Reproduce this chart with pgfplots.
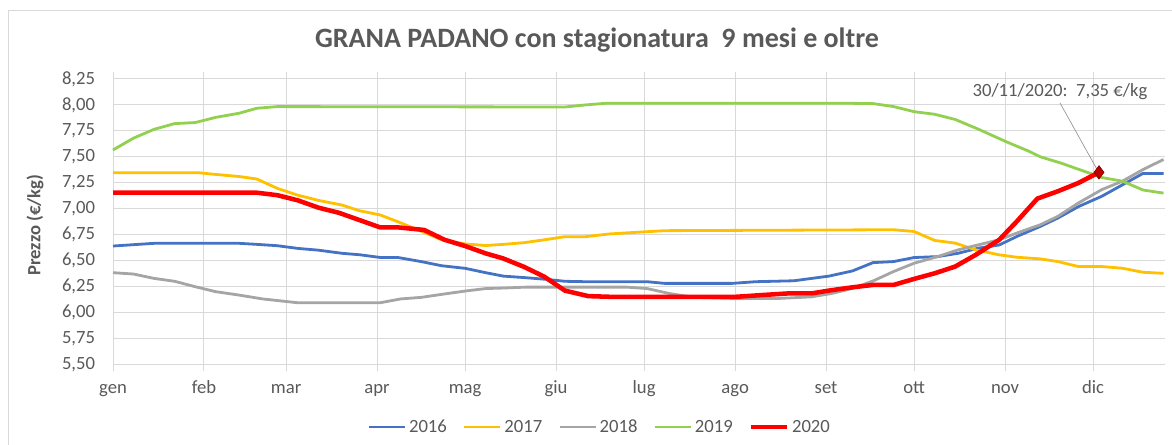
\documentclass[border=0pt]{standalone}
\usepackage{pgfplots}
\pgfplotsset{compat=1.18}
\usepackage{fontspec}
\setmainfont{Carlito}
\definecolor{cblue}{HTML}{4472C4}
\definecolor{cgold}{HTML}{FFC000}
\definecolor{cgray}{HTML}{A5A5A5}
\definecolor{cgreen}{HTML}{92D050}
\definecolor{cred}{HTML}{FF0000}
\definecolor{cdred}{HTML}{C00000}
\definecolor{grid}{HTML}{D9D9D9}
\definecolor{txt}{HTML}{595959}
\begin{document}
\begin{tikzpicture}
\draw[grid, line width=0.75pt] (6pt,0pt) -- (6pt,325.7pt) -- (879pt,325.7pt);
\begin{axis}[
  at={(84.75pt,60.525pt)}, anchor=south west,
  scale only axis, width=789pt, height=213.975pt,
  xmin=0, xmax=358.5, ymin=5.5, ymax=8.25,
  axis line style={draw=none},
  xtick={0,31,59,90,120,151,181,212,243,273,304,334},
  xticklabels={gen,feb,mar,apr,mag,giu,lug,ago,set,ott,nov,dic},
  ytick={5.5,5.75,6,6.25,6.5,6.75,7,7.25,7.5,7.75,8,8.25},
  yticklabels={{5,50},{5,75},{6,00},{6,25},{6,50},{6,75},{7,00},{7,25},{7,50},{7,75},{8,00},{8,25}},
  grid=major, major grid style={draw=grid, line width=0.75pt},
  tick align=outside,
  x tick style={draw=grid, line width=0.75pt}, major tick length=5.25pt,
  y tick style={draw=none},
  xticklabel style={font=\fontsize{14}{16}\selectfont, text=txt, anchor=base, yshift=-17pt},
  yticklabel style={font=\fontsize{14}{16}\selectfont, text=txt, anchor=east, inner sep=0pt, xshift=-8pt},
  legend columns=5,
  legend style={at={(0.463,-0.2198)}, anchor=center, draw=none, fill=none,
    font=\fontsize{14}{16}\selectfont, text=txt,
    /tikz/every even column/.append style={column sep=10pt},
    nodes={inner sep=2pt}},
  legend image code/.code={\draw[#1] (0pt,0pt) -- (27pt,0pt);},
  clip=false,
]
\addplot[cblue, line width=2.1pt] coordinates {
(0,6.64)(7,6.653)(14,6.666)(43,6.666)(49,6.656)(56,6.643)(63,6.617)(70,6.60)(78,6.57)(84,6.556)(91,6.53)(97,6.53)(105,6.49)(112,6.45)(120,6.425)(127,6.383)(133,6.35)(141,6.334)(148,6.318)(154,6.30)(161,6.296)(182,6.296)(188,6.28)(211,6.28)(219,6.296)(232,6.305)(244,6.35)(252,6.40)(259,6.48)(266,6.49)(273,6.529)(281,6.538)(288,6.57)(295,6.62)(302,6.65)(308,6.732)(316,6.829)(322,6.91)(329,7.02)(337,7.12)(344,7.23)(351,7.34)(358,7.34)};
\addlegendentry{2016}
\addplot[cgold, line width=2.1pt] coordinates {
(0,7.347)(29,7.347)(35,7.33)(43,7.31)(49,7.286)(56,7.196)(63,7.13)(70,7.08)(78,7.035)(84,6.98)(91,6.94)(97,6.875)(104,6.795)(112,6.70)(120,6.66)(127,6.645)(133,6.656)(140,6.672)(148,6.704)(154,6.73)(161,6.73)(169,6.756)(177,6.77)(188,6.788)(266,6.797)(273,6.78)(280,6.694)(287,6.668)(294,6.603)(302,6.555)(308,6.532)(316,6.516)(322,6.49)(329,6.442)(337,6.442)(344,6.426)(351,6.387)(358,6.377)};
\addlegendentry{2017}
\addplot[cgray, line width=2.1pt] coordinates {
(0,6.383)(7,6.37)(14,6.328)(21,6.30)(28,6.248)(35,6.20)(43,6.167)(51,6.13)(63,6.093)(91,6.093)(98,6.13)(105,6.145)(112,6.174)(120,6.206)(127,6.23)(133,6.235)(141,6.244)(175,6.244)(182,6.23)(190,6.18)(198,6.145)(211,6.135)(227,6.135)(238,6.15)(245,6.183)(252,6.232)(259,6.303)(266,6.394)(273,6.474)(281,6.538)(288,6.603)(295,6.652)(302,6.70)(308,6.765)(316,6.845)(322,6.926)(329,7.055)(337,7.184)(344,7.265)(351,7.377)(358,7.474)};
\addlegendentry{2018}
\addplot[cgreen, line width=2.1pt] coordinates {
(0,7.566)(7,7.68)(14,7.765)(21,7.82)(28,7.83)(35,7.88)(43,7.92)(49,7.968)(56,7.984)(154,7.98)(161,8.00)(168,8.016)(250,8.016)(259,8.013)(266,7.984)(273,7.935)(280,7.91)(287,7.86)(295,7.765)(304,7.65)(312,7.555)(316,7.50)(323,7.44)(330,7.37)(337,7.30)(344,7.265)(351,7.18)(358,7.15)};
\addlegendentry{2019}
\addplot[cred, line width=3.4pt] coordinates {
(0,7.154)(49,7.154)(56,7.13)(63,7.08)(70,7.01)(77,6.96)(84,6.89)(91,6.82)(97,6.82)(106,6.795)(113,6.70)(120,6.64)(127,6.569)(133,6.52)(140,6.44)(147,6.344)(154,6.21)(162,6.157)(170,6.15)(212,6.15)(221,6.167)(230,6.183)(238,6.183)(245,6.215)(252,6.242)(259,6.265)(266,6.265)(273,6.323)(280,6.377)(287,6.442)(294,6.555)(302,6.70)(308,6.877)(315,7.097)(322,7.168)(329,7.248)(336,7.35)};
\addlegendentry{2020}
\addplot[forget plot, only marks, mark=diamond*, mark size=5pt, mark options={fill=cdred, draw=cdred!70!black, line width=0.5pt}] coordinates {(336,7.35)};
\draw[cgray!90!black, line width=0.5pt] (axis cs:322.7,8.02) -- (axis cs:335.5,7.37);
\node[font=\fontsize{14}{16}\selectfont, text=txt, inner sep=0pt] at (axis cs:322.7,8.128) {30/11/2020:\ \ 7,35 €/kg};
\end{axis}
\node[font=\bfseries\fontsize{21}{25}\selectfont, text=txt] at (447.75pt,303.75pt) {GRANA PADANO con stagionatura\ \ 9 mesi e oltre};
\node[font=\bfseries\fontsize{14}{16}\selectfont, text=txt, rotate=90] at (26.25pt,165pt) {Prezzo (€/kg)};
\pgfresetboundingbox
\useasboundingbox (0,0) rectangle (879pt,333.75pt);
\end{tikzpicture}
\end{document}
